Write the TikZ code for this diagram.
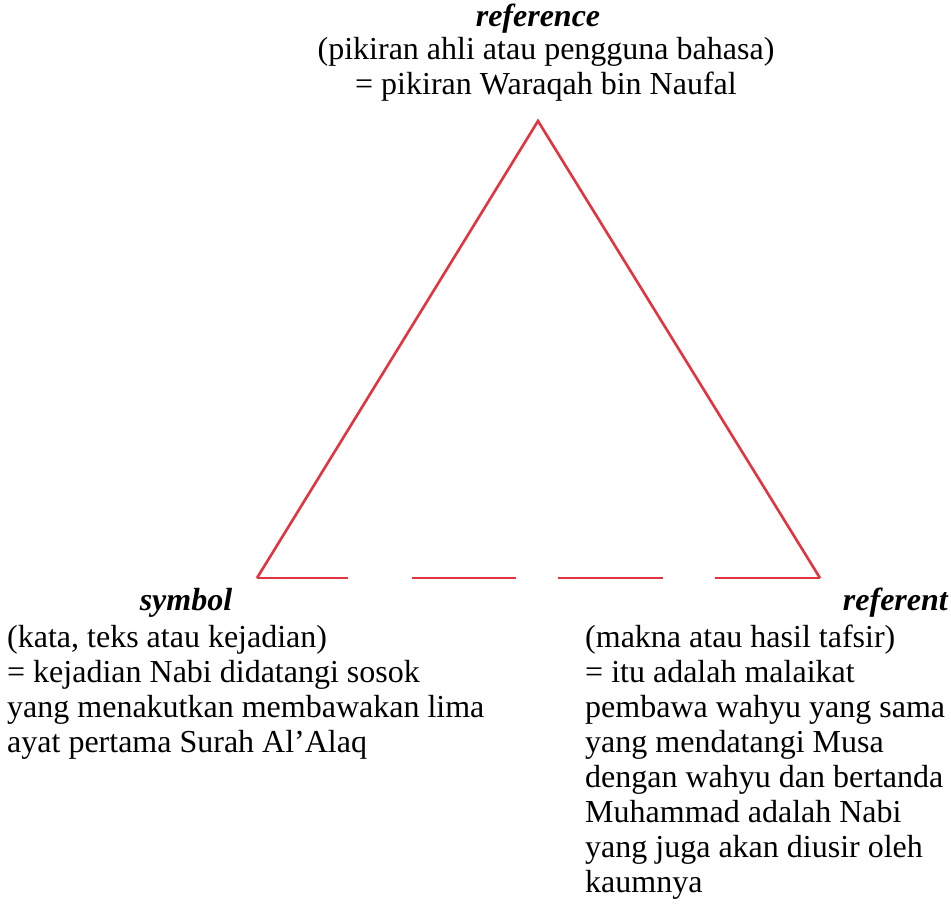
\documentclass[tikz,border=0pt]{standalone}
\usepackage{fontspec}
\setmainfont{Liberation Serif}
\usetikzlibrary{positioning}
\definecolor{trired}{RGB}{226,52,64}

\begin{document}
\begin{tikzpicture}[
    x=1pt, y=-1pt,
    side/.style={draw=trired, line width=2.6pt, line join=miter},
    gap/.style={side, dash pattern=on 91pt off 64pt on 104pt off 42pt on 105pt off 52pt on 110pt},
    title/.style={font=\fontsize{32}{35}\selectfont\bfseries\itshape, inner sep=0pt},
    body/.style={font=\fontsize{32}{35}\selectfont, inner sep=0pt, align=left},
  ]
  \useasboundingbox (0,0) rectangle (951,918);

  %% Corners of the triangle
  \coordinate (ref) at (538,121);
  \coordinate (sym) at (257,578);
  \coordinate (rft) at (820,578);

  %% Sides
  \draw[side] (sym) -- (ref) -- (rft);
  \draw[gap] (sym) -- (rft);

  %% Reference (top)
  \node[title, anchor=base] (reftitle) at (538,27) {reference};
  \node[body, align=center, anchor=north] (refbody) at (546,37)
    {(pikiran ahli atau pengguna bahasa)\\= pikiran Waraqah bin Naufal};

  %% Symbol (left)
  \node[title, anchor=base] (symtitle) at (186,610) {symbol};
  \node[body, anchor=north west] (symbody) at (7,625)
    {(kata, teks atau kejadian)\\
     = kejadian Nabi didatangi sosok\\
     yang menakutkan membawakan lima\\
     ayat pertama Surah Al’Alaq};

  %% Referent (right)
  \node[title, anchor=base east] (rfttitle) at (948,610) {referent};
  \node[body, anchor=north west] (rftbody) at (585,625)
    {(makna atau hasil tafsir)\\
     = itu adalah malaikat\\
     pembawa wahyu yang sama\\
     yang mendatangi Musa\\
     dengan wahyu dan bertanda\\
     Muhammad adalah Nabi\\
     yang juga akan diusir oleh\\
     kaumnya};

\end{tikzpicture}
\end{document}
